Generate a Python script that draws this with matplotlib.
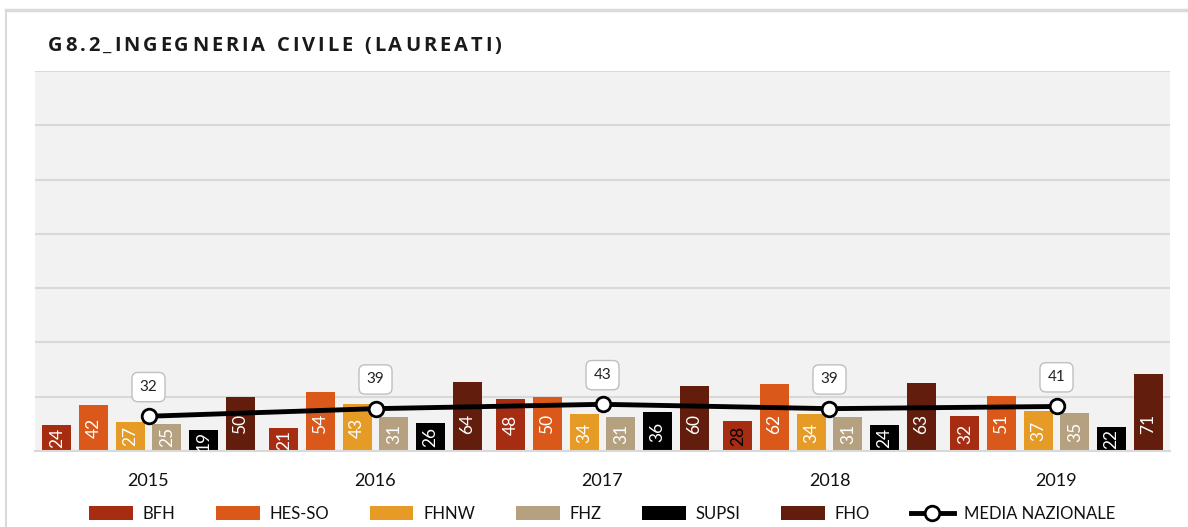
import matplotlib.pyplot as plt
import numpy as np
from matplotlib.lines import Line2D

years = ["2015", "2016", "2017", "2018", "2019"]
schools = ["BFH", "HES-SO", "FHNW", "FHZ", "SUPSI", "FHO"]
bfh = [24, 21, 48, 28, 32]
hes_so = [42, 54, 50, 62, 51]
fhnw = [27, 43, 34, 34, 37]
fhz = [25, 31, 31, 31, 35]
supsi = [19, 26, 36, 24, 22]
fho = [50, 64, 60, 63, 71]
media = [32, 39, 43, 39, 41]
title = "G8.2_INGEGNERIA CIVILE (LAUREATI)"

colors = ["#A62D12", "#D9581A", "#E59B26", "#B5A180", "#000000", "#631D0C"]
series = [bfh, hes_so, fhnw, fhz, supsi, fho]

W, H = 1188, 527
fig = plt.figure(figsize=(W / 100, H / 100), dpi=100)

# card border (top and left only)
fig.add_artist(Line2D([6 / W, 1], [1 - 10 / H, 1 - 10 / H], color="#DADADA", lw=2.5))
fig.add_artist(Line2D([6 / W, 6 / W], [0, 1 - 10 / H], color="#DADADA", lw=1.5))

ax = fig.add_axes([35 / W, 1 - 451 / H, 1135 / W, 380 / H])
ax.set_facecolor("#F2F2F2")

x = np.arange(len(years))
pitch = 0.1615
width = 0.128
for i, (name, vals) in enumerate(zip(schools, series)):
    pos = x + (i - 2.5) * pitch
    ax.bar(pos, vals, width, color=colors[i], label=name, zorder=2)
    for p, v in zip(pos, vals):
        tc = "white"
        if name == "BFH" and v == 28:
            tc = "black"
        ax.text(p, min(v / 2, 25), str(v), rotation=90, ha="center", va="center",
                color=tc, fontsize=12.5, family="Lato", zorder=3)

ax.plot(x, media, color="black", linewidth=3.5, marker="o", markersize=10.5,
        markerfacecolor="white", markeredgecolor="black", markeredgewidth=2,
        label="MEDIA NAZIONALE", zorder=4)
for xi, m in zip(x, media):
    ax.annotate(str(m), (xi, m), xytext=(0, 21), textcoords="offset points",
                ha="center", va="center", fontsize=11, family="Lato", color="#222222",
                bbox=dict(boxstyle="round,pad=0.5,rounding_size=0.4", fc="white",
                          ec="#BFBFBF", lw=1), zorder=5)

ax.set_xlim(-0.5, 4.5)
ax.set_ylim(0, 350)
ax.set_yticks(np.arange(50, 351, 50))
ax.yaxis.grid(True, color="#D9D9D9", linewidth=1.5, zorder=1)
ax.set_axisbelow(True)
ax.tick_params(axis="y", left=False, labelleft=False)
ax.set_xticks(x)
ax.set_xticklabels(years, fontsize=13, family="Lato", color="#111111")
ax.tick_params(axis="x", length=0, pad=16)
for s in ["top", "left", "right"]:
    ax.spines[s].set_visible(False)
ax.spines["bottom"].set_color("#D9D9D9")
ax.spines["bottom"].set_linewidth(1.5)

# title with letter spacing, drawn char by char
renderer = fig.canvas.get_renderer()
tx = 48
for ch in title:
    t = fig.text(tx / W, 1 - 46 / H, ch, fontsize=14.5, fontweight="bold",
                 family="Open Sans", color="#1A1A1A", va="center", ha="left")
    if ch == " ":
        w = 6
    else:
        w = t.get_window_extent(renderer).width
    tx += w + 2.9

handles, labels = ax.get_legend_handles_labels()
order = [1, 2, 3, 4, 5, 6, 0]
ax.legend([handles[k] for k in order], [labels[k] for k in order],
          loc="upper center", bbox_to_anchor=(0.5, -0.105), ncol=7, frameon=False,
          prop={"family": "Lato", "size": 12}, handlelength=2.6, handleheight=0.9,
          handletextpad=0.6, columnspacing=2.45, labelcolor="#111111")

fig.savefig("out.png", dpi=100)
